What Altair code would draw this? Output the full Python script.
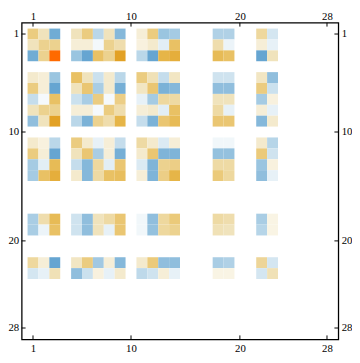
import altair as alt
import pandas as pd

# Row / column indices of the non-empty blocks of the 28x28 matrix
row_ids = [1, 2, 3, 5, 6, 7, 8, 9, 11, 12, 13, 14, 18, 19, 22, 23]
col_ids = [1, 2, 3, 5, 6, 7, 8, 9, 11, 12, 13, 14, 18, 19, 22, 23]

# Matrix values (one list per row, in col_ids order)
row_1 = [0.4, 0.2, -0.65, 0.2, 0.4, -0.3, 0.2, -0.55, 0.12, 0.4, -0.45, -0.4, -0.35, -0.35, 0.3, -0.18]
row_2 = [0.2, 0.35, 0.35, 0.12, 0.12, -0.05, 0.35, 0.25, 0.1, 0.15, -0.12, 0.5, 0.25, -0.08, 0.12, -0.1]
row_3 = [-0.65, 0.35, 1.0, -0.45, -0.7, 0.5, 0.35, 0.75, -0.3, -0.7, 0.6, 0.65, 0.55, 0.5, -0.7, 0.2]
row_5 = [0.15, 0.12, -0.45, 0.5, 0.2, -0.22, 0.15, -0.3, 0.4, 0.22, -0.25, 0.18, -0.2, -0.2, 0.18, -0.5]
row_6 = [0.4, 0.12, -0.7, 0.2, 0.45, -0.38, 0.15, -0.62, 0.18, 0.45, -0.6, -0.55, -0.5, -0.5, 0.4, -0.22]
row_7 = [-0.25, -0.04, 0.5, -0.22, -0.38, 0.4, -0.04, 0.38, -0.1, -0.4, 0.3, 0.28, 0.2, 0.2, -0.4, 0.1]
row_8 = [0.2, 0.35, 0.35, 0.12, 0.12, -0.04, 0.4, 0.25, 0.12, 0.15, -0.12, 0.5, 0.28, -0.1, 0.12, -0.1]
row_9 = [-0.5, 0.2, 0.75, -0.3, -0.6, 0.35, 0.25, 0.6, -0.25, -0.6, 0.45, 0.55, 0.45, 0.45, -0.55, 0.15]
row_11 = [0.15, 0.1, -0.3, 0.4, 0.15, -0.1, 0.12, -0.25, 0.28, 0.15, -0.15, 0.12, -0.06, -0.06, 0.15, -0.32]
row_12 = [0.4, 0.12, -0.7, 0.2, 0.45, -0.38, 0.12, -0.62, 0.15, 0.45, -0.58, -0.58, -0.48, -0.48, 0.42, -0.2]
row_13 = [-0.4, -0.12, 0.55, -0.25, -0.55, 0.3, -0.12, 0.45, -0.15, -0.58, 0.35, 0.38, 0.28, 0.28, -0.45, 0.1]
row_14 = [-0.4, 0.5, 0.65, 0.15, -0.55, 0.28, 0.5, 0.52, 0.12, -0.58, 0.38, 0.6, 0.42, 0.3, -0.5, -0.1]
row_18 = [-0.38, 0.25, 0.55, -0.2, -0.5, 0.2, 0.28, 0.45, -0.06, -0.5, 0.3, 0.42, 0.28, 0.25, -0.38, 0.08]
row_19 = [-0.38, -0.08, 0.5, -0.2, -0.5, 0.2, -0.1, 0.45, -0.06, -0.48, 0.3, 0.35, 0.22, 0.2, -0.32, 0.08]
row_22 = [0.3, 0.12, -0.7, 0.18, 0.4, -0.42, 0.12, -0.55, 0.15, 0.42, -0.5, -0.5, -0.38, -0.35, 0.32, -0.18]
row_23 = [-0.18, -0.1, 0.22, -0.5, -0.22, 0.1, -0.1, 0.15, -0.28, -0.2, 0.12, -0.1, 0.08, 0.08, -0.18, 0.22]

matrix_rows = [row_1, row_2, row_3, row_5, row_6, row_7, row_8, row_9,
               row_11, row_12, row_13, row_14, row_18, row_19, row_22, row_23]

tick_values = [1, 10, 20, 28]

records = []
for r, vals in zip(row_ids, matrix_rows):
    for c, v in zip(col_ids, vals):
        records.append({"row": r, "col": c, "value": v})
df = pd.DataFrame(records)
tdf = pd.DataFrame({"t": tick_values})

W = 324
H = 324
dom = [-0.04, 29.04]
xs = alt.Scale(domain=dom, nice=False, zero=False)
ys = alt.Scale(domain=dom, nice=False, zero=False, reverse=True)

color_scale = alt.Scale(
    domain=[-0.75, -0.4, -0.2, 0, 0.2, 0.4, 0.6, 0.75, 1.0],
    range=["#5B9FCE", "#A5CBE3", "#CFE3EF", "#FFFFFF", "#F0E3BC",
           "#EBCC80", "#E6B548", "#E2A125", "#FF6A00"],
    interpolate="rgb",
    clamp=True,
)

axis_common = dict(
    values=tick_values,
    title=None,
    ticks=False,
    grid=False,
    domain=False,
    labelFont="Liberation Serif",
    labelFontSize=11,
    labelColor="black",
    labelPadding=3,
    labelFlush=False,
    labelOverlap=False,
)

heat = alt.Chart(df).transform_calculate(
    x0="datum.col - 0.5", x1="datum.col + 0.5",
    y0="datum.row - 0.5", y1="datum.row + 0.5",
).mark_rect().encode(
    x=alt.X("x0:Q", scale=xs, axis=alt.Axis(orient="bottom", **axis_common)),
    x2="x1:Q",
    y=alt.Y("y0:Q", scale=ys, axis=alt.Axis(orient="left", **axis_common)),
    y2="y1:Q",
    color=alt.Color("value:Q", scale=color_scale, legend=None),
)

top_ticks = alt.Chart(tdf).mark_rule(color="black", strokeWidth=1).encode(
    x=alt.X("t:Q", scale=xs,
            axis=alt.Axis(orient="top", labelBaseline="alphabetic", **axis_common)),
    y=alt.value(0), y2=alt.value(4),
)
bottom_ticks = alt.Chart(tdf).mark_rule(color="black", strokeWidth=1).encode(
    x=alt.X("t:Q", scale=xs, axis=None),
    y=alt.value(H - 4), y2=alt.value(H),
)
left_ticks = alt.Chart(tdf).mark_rule(color="black", strokeWidth=1).encode(
    y=alt.Y("t:Q", scale=ys, axis=None),
    x=alt.value(0), x2=alt.value(4),
)
right_ticks = alt.Chart(tdf).mark_rule(color="black", strokeWidth=1).encode(
    y=alt.Y("t:Q", scale=ys, axis=alt.Axis(orient="right", **axis_common)),
    x=alt.value(W - 4), x2=alt.value(W),
)

chart = alt.layer(heat, top_ticks, bottom_ticks, left_ticks, right_ticks).properties(
    width=W,
    height=H,
    autosize=alt.AutoSizeParams(type="none"),
    padding={"left": 14, "top": 11, "right": 14, "bottom": 12},
).configure_view(stroke="black", strokeWidth=1.3)

chart.save("out.html", embed_options={"renderer": "svg", "actions": False})
